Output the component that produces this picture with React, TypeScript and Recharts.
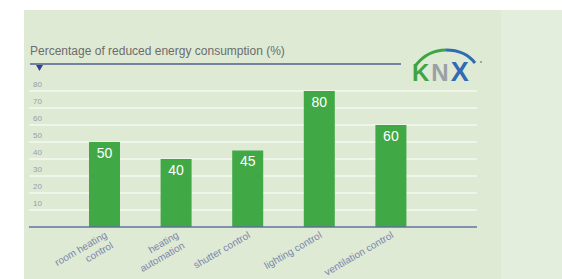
import { BarChart, Bar, XAxis, YAxis, CartesianGrid, LabelList } from "recharts";

const categories = ["room heating|control", "heating|automation", "shutter control", "lighting control", "ventilation control"];
const savings = [50, 40, 45, 80, 60];
const yTicks = [10, 20, 30, 40, 50, 60, 70, 80];

const chartData = categories.map((name, i) => ({ name, value: savings[i] }));

const FONT = '"Liberation Sans", Arial, Helvetica, sans-serif';

function CategoryTick(props: any) {
  const { x, y, payload } = props;
  const lines = String(payload.value).split("|");
  return (
    <g transform={`translate(${x + 3},${y + 2})`}>
      <text transform="rotate(-30)" textAnchor="end" fontSize={10} fill="#7c86ac" fontFamily={FONT}>
        {lines.map((line, i) => (
          <tspan key={i} x={0} dy={i === 0 ? 0 : 12}>
            {line}
          </tspan>
        ))}
      </text>
    </g>
  );
}

function ValueTick(props: any) {
  const { x, y, payload } = props;
  return (
    <text x={x - 2} y={y - 4} fontSize={8} fill="#989dac" fontFamily={FONT} textAnchor="start">
      {payload.value}
    </text>
  );
}

export default function App() {
  return (
    <div style={{ position: "fixed", left: 0, top: 0, width: 562, height: 279, background: "#ffffff", fontFamily: FONT }}>
      {/* panel backgrounds */}
      <div style={{ position: "absolute", left: 24, top: 10, width: 477, height: 269, background: "#deead4" }} />
      <div style={{ position: "absolute", left: 501, top: 10, width: 61, height: 269, background: "#e4eedc" }} />

      <div style={{ position: "absolute", left: 0, top: 0 }}>
        <BarChart width={562} height={279} data={chartData} margin={{ top: 91, right: 85, left: 29, bottom: 0 }}>
          <CartesianGrid vertical={false} stroke="#f6f9f2" strokeWidth={1.5} />
          <XAxis
            dataKey="name"
            height={52}
            padding={{ left: 40, right: 50 }}
            axisLine={{ stroke: "#5c6f9c", strokeWidth: 1.5 }}
            tickLine={false}
            interval={0}
            tick={<CategoryTick />}
          />
          <YAxis
            domain={[0, 80]}
            ticks={yTicks}
            interval={0}
            width={1}
            mirror
            axisLine={false}
            tickLine={false}
            tickMargin={0}
            tick={<ValueTick />}
          />
          <Bar dataKey="value" fill="#40a946" barSize={31} isAnimationActive={false}>
            <LabelList dataKey="value" position="insideTop" offset={6} fill="#ffffff" fontSize={14} fontFamily={FONT} />
          </Bar>
        </BarChart>
      </div>

      {/* title, rule and logo */}
      <svg width={562} height={279} style={{ position: "absolute", left: 0, top: 0, pointerEvents: "none" }}>
        <text x={30} y={55} fontSize={12} fill="#6c6c6c" fontFamily={FONT}>
          Percentage of reduced energy consumption (%)
        </text>
        <line x1={30} y1={64} x2={401} y2={64} stroke="#4f5f8e" strokeWidth={1.5} />
        <polygon points="36,65 43,65 39.5,71" fill="#33428e" />
        <path d="M 416 65 Q 428 50 446 50" fill="none" stroke="#3da544" strokeWidth={3} />
        <path d="M 446 50 Q 465 50 475 63" fill="none" stroke="#2f6cb3" strokeWidth={3} />
        <text x={412} y={81} fontSize={24} fontWeight="bold" fontFamily={FONT} letterSpacing={2}>
          <tspan fill="#3da544">K</tspan>
          <tspan fill="#9aa0a6">N</tspan>
          <tspan fill="#2f6cb3" fontSize={27}>X</tspan>
        </text>
        <circle cx={481} cy={62} r={1} fill="#8a8f96" />
      </svg>
    </div>
  );
}
